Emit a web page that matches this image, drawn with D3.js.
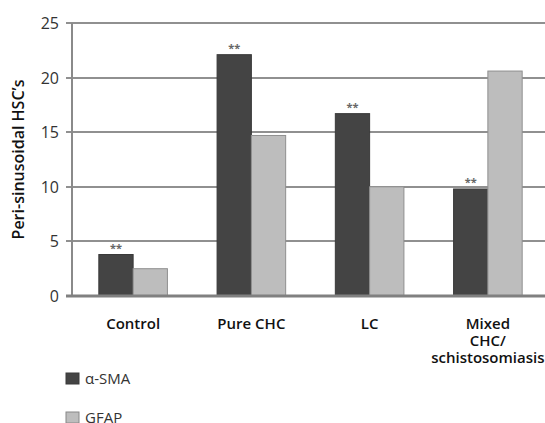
<!DOCTYPE html>
<html>
<head>
<meta charset="utf-8">
<script src="https://cdn.jsdelivr.net/npm/d3@7"></script>
<style>
    body { margin: 0; background: #fff; }
    svg { font-family: "Open Sans", "DejaVu Sans", sans-serif; }
    .grid line { stroke: #909090; stroke-width: 2.5px; shape-rendering: crispEdges; }
</style>
</head>
<body>
<div id="graphique"></div>
<script>
const categories = ["Control", "Pure CHC", "LC", "Mixed CHC/ schistosomiasis"];
const series = ["α-SMA", "GFAP"];
const alphaSMA = [3.8, 22.1, 16.7, 9.8];
const gfap = [2.5, 14.7, 10.0, 20.6];
const yTicks = [0, 5, 10, 15, 20, 25];
const signif = ["**", "**", "**", "**"];

const width = 545, height = 423;
const margin = { top: 23, right: 0, bottom: 127, left: 72 };
const innerWidth = width - margin.left - margin.right;
const innerHeight = height - margin.top - margin.bottom;
const colors = ["#444444", "#bdbdbd"];

const svg = d3.select("#graphique").append("svg")
    .attr("width", width)
    .attr("height", height);

const g = svg.append("g")
    .attr("transform", `translate(${margin.left},${margin.top})`);

const xScale = d3.scaleBand()
    .domain(categories)
    .range([2, innerWidth + 2])
    .paddingInner(0.42)
    .paddingOuter(0.21);

const xSub = d3.scaleBand()
    .domain(series)
    .range([0, xScale.bandwidth()]);

const yScale = d3.scaleLinear()
    .domain([0, 25])
    .range([innerHeight, 0]);

// grille
const grid = g.append("g").attr("class", "grid");
grid.selectAll("line")
    .data(yTicks)
    .enter()
    .append("line")
    .attr("x1", -6)
    .attr("x2", innerWidth)
    .attr("y1", d => Math.round(yScale(d)))
    .attr("y2", d => Math.round(yScale(d)));

// axe gauche
g.append("rect")
    .attr("x", -1)
    .attr("y", 0)
    .attr("width", 2)
    .attr("height", innerHeight)
    .attr("fill", "#8a8a8a");

// valeurs axe y
g.selectAll(".tick-label")
    .data(yTicks)
    .enter()
    .append("text")
    .attr("class", "tick-label")
    .attr("x", -13)
    .attr("y", d => yScale(d) + 6)
    .attr("text-anchor", "end")
    .style("font-size", "16px")
    .style("fill", "#333")
    .text(d => d);

const rows = categories.map((c, i) => ({ cat: c, vals: [alphaSMA[i], gfap[i]] }));

const groups = g.selectAll(".groupe")
    .data(rows)
    .enter()
    .append("g")
    .attr("class", "groupe")
    .attr("transform", d => `translate(${xScale(d.cat)},0)`);

groups.selectAll("rect")
    .data(d => d.vals.map((v, j) => ({ serie: series[j], v: v, j: j })))
    .enter()
    .append("rect")
    .attr("x", d => xSub(d.serie))
    .attr("y", d => yScale(d.v))
    .attr("width", xSub.bandwidth())
    .attr("height", d => innerHeight - yScale(d.v))
    .style("fill", d => colors[d.j])
    .style("stroke", d => d.j === 0 ? "#3a3a3a" : "#8f8f8f")
    .style("stroke-width", 1);

// trait du bas par-dessus les barres
g.append("rect")
    .attr("x", -6)
    .attr("y", innerHeight - 1.5)
    .attr("width", innerWidth + 6)
    .attr("height", 3)
    .attr("fill", "#808080");

// etoiles
groups.append("text")
    .attr("x", xSub("α-SMA") + xSub.bandwidth() / 2)
    .attr("y", (d, i) => yScale(alphaSMA[i]) - 3)
    .attr("text-anchor", "middle")
    .style("font-size", "11px")
    .style("font-weight", "bold")
    .style("fill", "#666")
    .text((d, i) => signif[i]);

// noms des categories
const labelLines = {
    "Control": ["Control"],
    "Pure CHC": ["Pure CHC"],
    "LC": ["LC"],
    "Mixed CHC/ schistosomiasis": ["Mixed", "CHC/", "schistosomiasis"]
};

g.selectAll(".cat-label")
    .data(categories)
    .enter()
    .append("text")
    .attr("class", "cat-label")
    .attr("x", d => xScale(d) + xScale.bandwidth() / 2)
    .attr("y", innerHeight + 33)
    .attr("text-anchor", "middle")
    .style("font-size", "15px")
    .style("font-weight", "600")
    .style("fill", "#111")
    .selectAll("tspan")
    .data(d => labelLines[d])
    .enter()
    .append("tspan")
    .attr("x", function() { return d3.select(this.parentNode).attr("x"); })
    .attr("dy", (d, i) => i === 0 ? 0 : 17)
    .text(d => d);

// titre axe y
svg.append("text")
    .attr("transform", `translate(24,${margin.top + innerHeight / 2}) rotate(-90)`)
    .attr("text-anchor", "middle")
    .style("font-size", "16px")
    .style("font-weight", "600")
    .style("fill", "#111")
    .text("Peri-sinusoidal HSC’s");

// legende
const legend = svg.selectAll(".legende")
    .data(series)
    .enter()
    .append("g")
    .attr("class", "legende")
    .attr("transform", (d, i) => `translate(66,${373 + i * 39})`);

legend.append("rect")
    .attr("width", 13)
    .attr("height", 11)
    .style("fill", (d, i) => colors[i])
    .style("stroke", (d, i) => i === 0 ? "#3a3a3a" : "#888");

legend.append("text")
    .attr("x", 19)
    .attr("y", 11)
    .style("font-size", "15px")
    .style("fill", "#333")
    .text(d => d);
</script>
</body>
</html>
